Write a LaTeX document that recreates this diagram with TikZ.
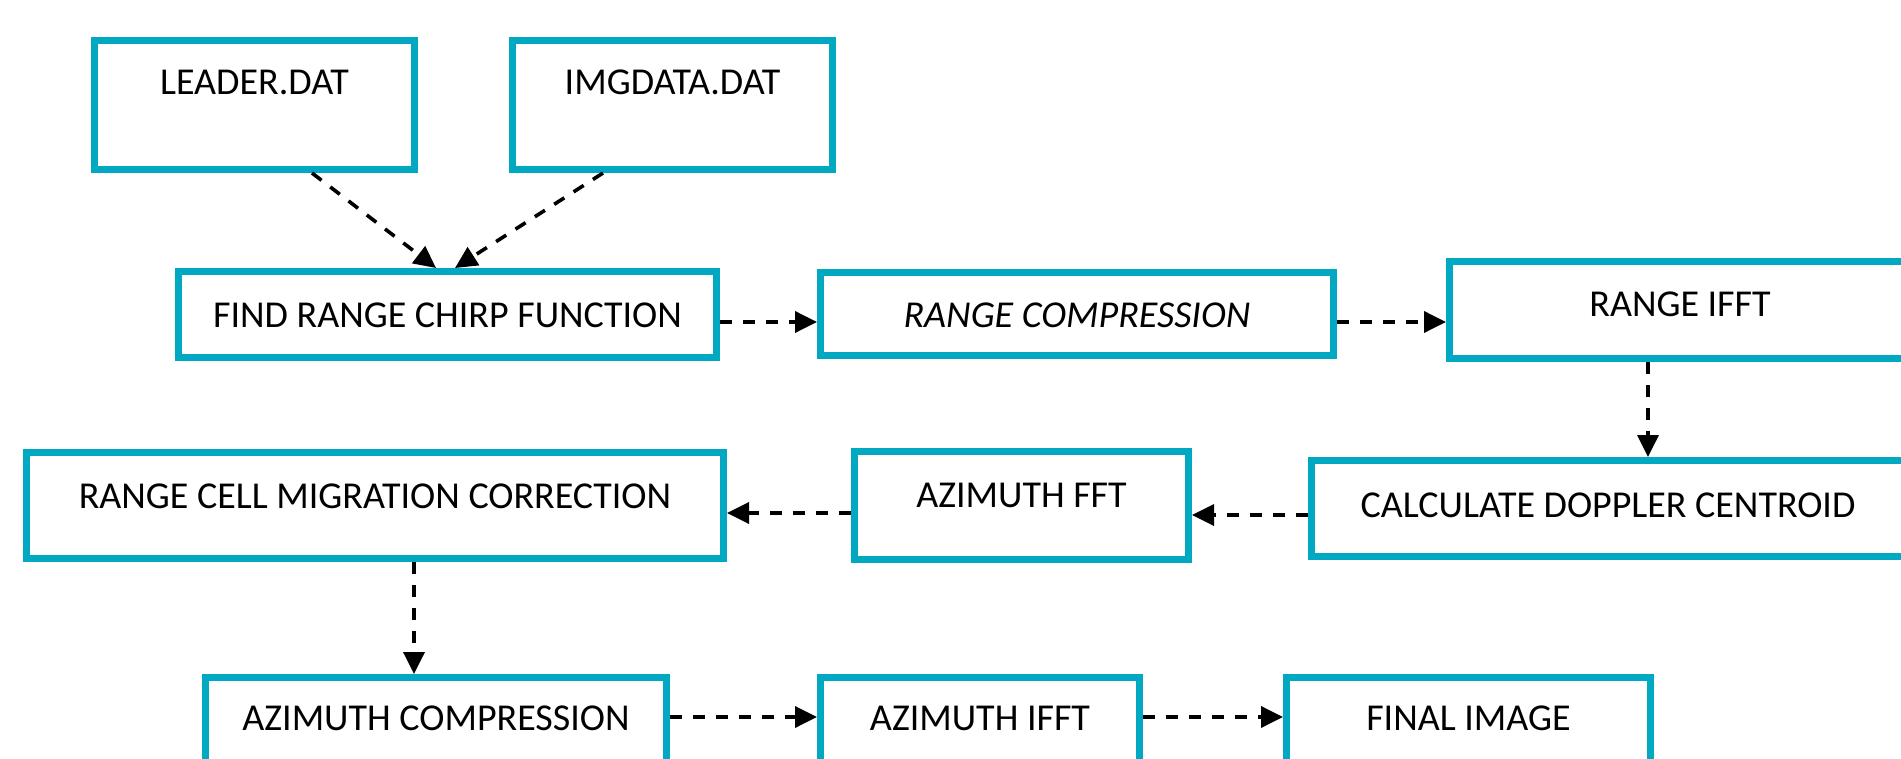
\documentclass[tikz,border=0pt]{standalone}
\usepackage{fontspec}
\setmainfont{Carlito}
\usetikzlibrary{arrows.meta,calc}
\definecolor{boxcyan}{RGB}{0,168,194}

\begin{document}
\begin{tikzpicture}[x=1pt,y=-1pt,
  box/.style={draw=boxcyan,line width=7pt,inner sep=0pt,anchor=north west,
    font=\fontsize{38}{46}\selectfont},
  flow/.style={draw=black,line width=3.6pt,dash pattern=on 12pt off 11pt,
    -{Triangle[length=22pt,width=21pt]}}]
  \clip (0,0) rectangle (1901,759);
  \fill[white] (0,0) rectangle (1901,759);

  % input files
  \node[box,minimum width=320pt,text height=54.5pt,text depth=74.5pt] (leader) at (91,37) {LEADER.DAT};
  \node[box,minimum width=320pt,text height=54.5pt,text depth=74.5pt] (imgdata) at (509,37) {IMGDATA.DAT};

  % range processing
  \node[box,minimum width=538pt,text height=55.5pt,text depth=30.5pt] (chirp) at (175,268) {FIND RANGE CHIRP FUNCTION};
  \node[box,minimum width=513pt,text height=54.5pt,text depth=28.5pt,
    font=\fontsize{38}{46}\selectfont\itshape] (rcomp) at (817,269) {RANGE COMPRESSION};
  \node[box,minimum width=461pt,text height=55.5pt,text depth=41.5pt] (rifft) at (1446,258) {RANGE IFFT};

  % azimuth processing
  \node[box,minimum width=593pt,text height=56.5pt,text depth=39.5pt] (dopp) at (1308,457) {CALCULATE DOPPLER CENTROID};
  \node[box,minimum width=334pt,text height=55.5pt,text depth=52.5pt] (azfft) at (851,448) {AZIMUTH FFT};
  \node[box,minimum width=697pt,text height=55.5pt,text depth=50.5pt] (rcmc) at (23,449) {RANGE CELL MIGRATION CORRECTION};
  \node[box,minimum width=461pt,text height=52.5pt,text depth=55pt] (azcomp) at (202,674) {AZIMUTH COMPRESSION};
  \node[box,minimum width=319pt,text height=52.5pt,text depth=55pt] (azifft) at (817,674) {AZIMUTH IFFT};
  \node[box,minimum width=364pt,text height=52.5pt,text depth=55pt] (final) at (1283,674) {FINAL IMAGE};

  % flow
  \draw[flow] ([xshift=57.5pt]leader.south) -- ([xshift=-11.5pt]chirp.north);
  \draw[flow] ([xshift=-69.5pt]imgdata.south) -- ([xshift=7.5pt]chirp.north);
  \draw[flow] ([yshift=-7.5pt]chirp.east) -- ([yshift=-7.5pt]chirp.east -| rcomp.west);
  \draw[flow] ([yshift=-8pt]rcomp.east) -- ([yshift=-8pt]rcomp.east -| rifft.west);
  \draw[flow] ([xshift=-32pt]rifft.south) -- ([xshift=-32pt]rifft.south |- dopp.north);
  \draw[flow] ([yshift=-6.5pt]dopp.west) -- ([yshift=-6.5pt]dopp.west -| azfft.east);
  \draw[flow] ([yshift=-7.5pt]azfft.west) -- ([yshift=-7.5pt]azfft.west -| rcmc.east);
  \draw[flow] ([xshift=39pt]rcmc.south) -- ([xshift=39pt]rcmc.south |- azcomp.north);
  \draw[flow] ([yshift=-43pt]azcomp.north east) -- ([yshift=-43pt]azcomp.north east -| azifft.west);
  \draw[flow] ([yshift=-43pt]azifft.north east) -- ([yshift=-43pt]azifft.north east -| final.west);
\end{tikzpicture}
\end{document}
